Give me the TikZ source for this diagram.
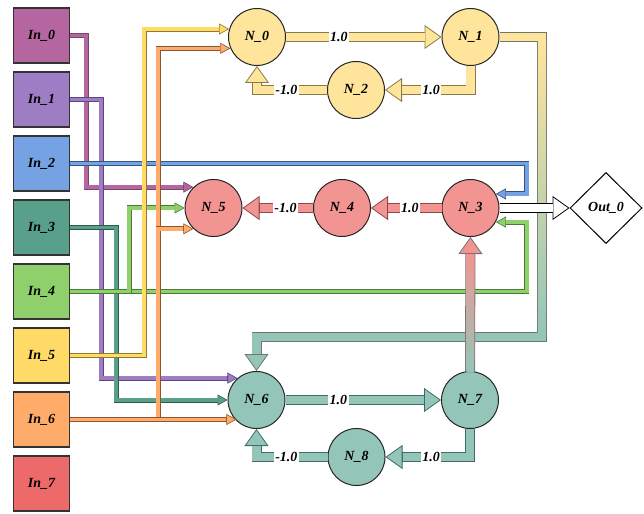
\documentclass[tikz,border=0pt]{standalone}
\usepackage{fontspec}
\setmainfont{Liberation Serif}
\usetikzlibrary{arrows.meta}
\usetikzlibrary{calc}
\usetikzlibrary{shapes.geometric}

\definecolor{cin0}{HTML}{B5659F}
\definecolor{cin1}{HTML}{9F7DC4}
\definecolor{cin2}{HTML}{74A2E2}
\definecolor{cin3}{HTML}{58A08A}
\definecolor{cin4}{HTML}{8FD06C}
\definecolor{cin5}{HTML}{FFDA66}
\definecolor{cin6}{HTML}{FFAC6A}
\definecolor{cin7}{HTML}{EC6A6A}
\definecolor{dk0}{HTML}{704A66}
\definecolor{dk1}{HTML}{5A4580}
\definecolor{dk2}{HTML}{35557F}
\definecolor{dk3}{HTML}{2E5A4E}
\definecolor{dk4}{HTML}{4A7A35}
\definecolor{dk5}{HTML}{8F7A2A}
\definecolor{dk6}{HTML}{8A5530}
\definecolor{yfill}{HTML}{FFE49C}
\definecolor{rfill}{HTML}{F29492}
\definecolor{tfill}{HTML}{93C6B8}
\definecolor{ydark}{HTML}{8A7A45}
\definecolor{rdark}{HTML}{8A4A4A}
\definecolor{tdark}{HTML}{3E6E62}

\tikzset{
  inbox/.style={draw=black!80, line width=1.2bp, fill=#1, minimum width=56bp, minimum height=55bp,
    font=\bfseries\itshape\fontsize{14}{14}\selectfont},
  neuron/.style={circle, draw=black!85, line width=1bp, fill=#1, minimum size=57bp,
    font=\bfseries\itshape\fontsize{14}{14}\selectfont},
  outbox/.style={diamond, draw=black, line width=1bp, fill=white, minimum width=72bp, minimum height=71bp,
    inner sep=0pt, font=\bfseries\itshape\fontsize{14}{14}\selectfont},
  wire/.style 2 args={line width=5bp, draw=#2, -{Triangle[length=10bp, width=11bp, line width=0.6bp, fill=#1]},
    postaction={draw=#1, line width=3.4bp, shorten >=10bp, -}},
  fatlink/.style 2 args={line width=10bp, draw=#2, -{Triangle[length=17bp, width=24bp, line width=0.8bp, fill=#1]},
    postaction={draw=#1, line width=8.4bp, shorten >=17bp, -}},
  lbl/.style={fill=white, inner sep=1.5bp, font=\bfseries\itshape\fontsize{14}{14}\selectfont},
}

\begin{document}
\begin{tikzpicture}[x=1bp, y=-1bp]
    \useasboundingbox (0,0) rectangle (644,514);

    \foreach \i in {0,...,7}
        \node[inbox=cin\i] (In_\i) at (41.5,35.5+64*\i) {In\_\i};

    \node[neuron=yfill] (N_0) at (257,37) {N\_0};
    \node[neuron=yfill] (N_1) at (470.5,37) {N\_1};
    \node[neuron=yfill] (N_2) at (356,90) {N\_2};
    \node[neuron=rfill] (N_3) at (470.5,208) {N\_3};
    \node[neuron=rfill] (N_4) at (342,208) {N\_4};
    \node[neuron=rfill] (N_5) at (213.5,208) {N\_5};
    \node[neuron=tfill] (N_6) at (256.5,400) {N\_6};
    \node[neuron=tfill] (N_7) at (470,400) {N\_7};
    \node[neuron=tfill] (N_8) at (356.5,457) {N\_8};
    \node[outbox] (Out_0) at (606,208) {Out\_0};

    \coordinate (r1) at (542,37);
    \coordinate (r2) at (542,337);

    \draw[wire={cin0}{dk0}] (In_0.east) -- ++(16,0) |- (N_5.134);
    \draw[wire={cin1}{dk1}] (In_1.east) -- ++(31,0) |- (N_6.131);
    \draw[wire={cin3}{dk3}] (In_3.east) -- ++(46,0) |- (N_6.west);
    \draw[wire={cin2}{dk2}] (In_2.east) -| ([xshift=31bp]N_3.29) -- (N_3.29);
    \draw[wire={cin4}{dk4}] (In_4.east) -| ([xshift=31bp]N_3.331) -- (N_3.331);
    \draw[wire={cin4}{dk4}] (In_4.east) -- ++(59,0) |- (N_5.west);
    \draw[wire={cin5}{dk5}] (In_5.east) -- ++(74,0) |- (N_0.164);
    \draw[wire={cin6}{dk6}] (In_6.east) -- ++(88,0) |- (N_0.203);
    \draw[wire={cin6}{dk6}] (In_6.east) -- ++(88,0) |- (N_5.226);
    \draw[wire={cin6}{dk6}] (In_6.east) -- (N_6.226 |- In_6.east);

    \draw[fatlink={yfill}{ydark}] (N_0.east) -- node[lbl, pos=0.34] {1.0} (N_1.west);
    \draw[fatlink={yfill}{ydark}] (N_1.south) |- node[lbl, pos=0.73] {1.0} (N_2.east);
    \draw[fatlink={yfill}{ydark}] (N_2.west) -| node[lbl, pos=0.29] {-1.0} (N_0.south);
    \draw[fatlink={rfill}{rdark}] (N_3.west) -- node[lbl, pos=0.45] {1.0} (N_4.east);
    \draw[fatlink={rfill}{rdark}] (N_4.west) -- node[lbl, pos=0.39] {-1.0} (N_5.east);
    \draw[fatlink={tfill}{tdark}] (N_6.east) -- node[lbl, pos=0.34] {1.0} (N_7.west);
    \draw[fatlink={tfill}{tdark}] (N_7.south) |- node[lbl, pos=0.73] {1.0} (N_8.east);
    \draw[fatlink={tfill}{tdark}] (N_8.west) -| node[lbl, pos=0.29] {-1.0} (N_6.south);

    \draw[fatlink={tfill}{black!55}] (N_1.east) -- (r1) -- (r2) -| (N_6.north);
    \draw[yfill, line width=8.4bp] (N_1.east) -- (r1) -- ++(0,4.2);
    \shade[top color=yfill, bottom color=tfill] ($(r1)+(-4.2,4.2)$) rectangle ($(r2)+(4.2,-4.2)$);

    \draw[fatlink={white}{black}] (N_3.east) -- (Out_0.west);

    \draw[fatlink={rfill}{black!55}] (N_7.north) -- (N_3.south);
    \shade[top color=rfill, bottom color=tfill] ($(N_3.south)+(-4.2,17)$) rectangle ($(N_7.north)+(4.2,0)$);
\end{tikzpicture}
\end{document}
